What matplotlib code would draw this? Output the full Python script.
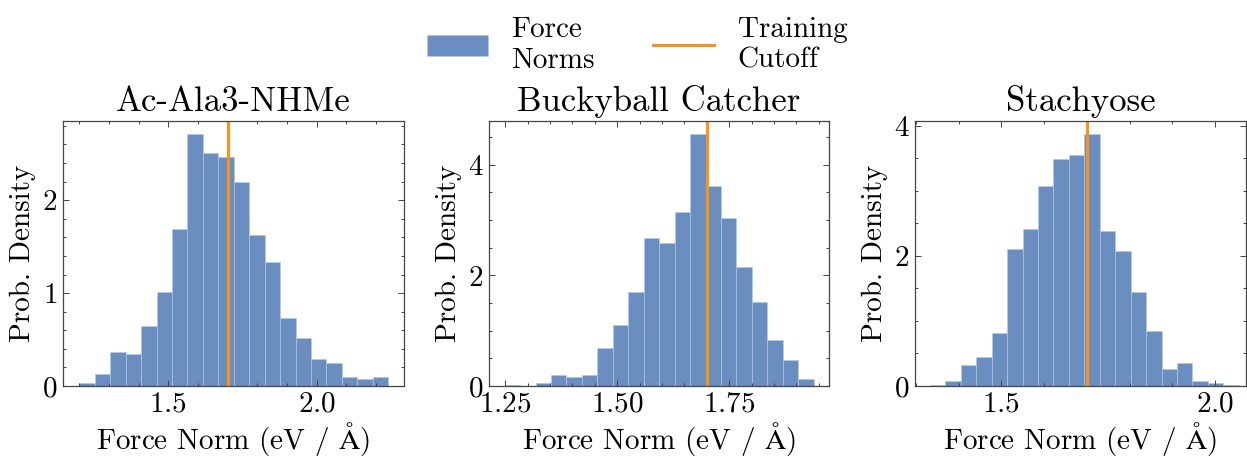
import matplotlib
matplotlib.use("Agg")
import matplotlib.pyplot as plt
import numpy as np
from matplotlib.ticker import MultipleLocator
from matplotlib.patches import Patch
from matplotlib.lines import Line2D

# histogram data (prob. density per bin)
titles = ["Ac-Ala3-NHMe", "Buckyball Catcher", "Stachyose"]
cutoff = 1.7

ala_lo, ala_hi = 1.200, 2.241
ala_dens = [0.036, 0.133, 0.366, 0.34, 0.649, 1.014, 1.688, 2.713, 2.505, 2.47,
            2.20, 1.624, 1.34, 0.728, 0.513, 0.287, 0.25, 0.097, 0.079, 0.093]

bucky_lo, bucky_hi = 1.249, 1.939
bucky_dens = [0.02, 0.005, 0.05, 0.19, 0.16, 0.19, 0.68, 1.11, 1.70, 2.67,
              2.59, 3.14, 4.55, 3.61, 3.03, 2.15, 1.52, 0.83, 0.475, 0.12]

stach_lo, stach_hi = 1.333, 2.055
stach_dens = [0.02, 0.08, 0.33, 0.44, 0.81, 2.11, 2.42, 3.07, 3.49, 3.55,
              3.88, 2.38, 2.07, 1.44, 0.84, 0.26, 0.35, 0.08, 0.05, 0.02]

panels = [
    (ala_lo, ala_hi, ala_dens, (1.145, 2.294), 2.853, 0.5, 0.1, 1, 0.2),
    (bucky_lo, bucky_hi, bucky_dens, (1.214, 1.973), 4.79, 0.25, 0.05, 2, 0.5),
    (stach_lo, stach_hi, stach_dens, (1.298, 2.072), 4.075, 0.5, 0.1, 2, 0.5),
]

plt.rcParams.update({
    'font.family': 'cmr10',
    'mathtext.fontset': 'cm',
    'axes.formatter.use_mathtext': True,
    'font.size': 21,
    'axes.edgecolor': '#444444',
    'axes.linewidth': 0.9,
})

bar_color = '#6a8ebf'
line_color = '#f7931e'

W, H = 1247, 457
fig = plt.figure(figsize=(W / 100, H / 100), dpi=100)

lefts = [63, 489, 915]
ax_w = [341, 340, 331]
top, bottom = 121, 386

for i, (lo, hi, dens, xlim, ytop, xmaj, xmin, ymaj, ymin) in enumerate(panels):
    ax = fig.add_axes([lefts[i] / W, 1 - bottom / H, ax_w[i] / W, (bottom - top) / H])
    edges = np.linspace(lo, hi, len(dens) + 1)
    ax.bar(edges[:-1], dens, width=np.diff(edges), align='edge',
           color=bar_color, edgecolor='#b8c9e2', linewidth=0.4)
    ax.axvline(cutoff, color=line_color, lw=2.2)
    ax.set_xlim(*xlim)
    ax.set_ylim(0, ytop)
    ax.xaxis.set_major_locator(MultipleLocator(xmaj))
    ax.xaxis.set_minor_locator(MultipleLocator(xmin))
    ax.yaxis.set_major_locator(MultipleLocator(ymaj))
    ax.yaxis.set_minor_locator(MultipleLocator(ymin))
    ax.tick_params(which='both', direction='in', top=True, right=True,
                   color='#444444', width=0.7)
    ax.tick_params(which='major', length=4, pad=4, labelsize=21)
    ax.tick_params(which='minor', length=2)
    ax.set_title(titles[i], fontsize=25, pad=7)
    ax.set_xlabel(r'Force Norm (eV / $\mathrm{\AA}$)', fontsize=21, labelpad=1.5)
    ax.set_ylabel('Prob. Density', fontsize=21, labelpad=4)

handles = [Patch(facecolor=bar_color, edgecolor='#b8c9e2', linewidth=0.4),
           Line2D([0], [0], color=line_color, lw=2.2)]
fig.legend(handles, ['Force\nNorms', 'Training\nCutoff'], loc='upper center',
           bbox_to_anchor=(637 / W, 1.02), ncol=2, frameon=False, fontsize=21,
           handlelength=2.1, handleheight=0.75, handletextpad=0.8,
           columnspacing=2.0)

fig.savefig('out.png', dpi=100)
